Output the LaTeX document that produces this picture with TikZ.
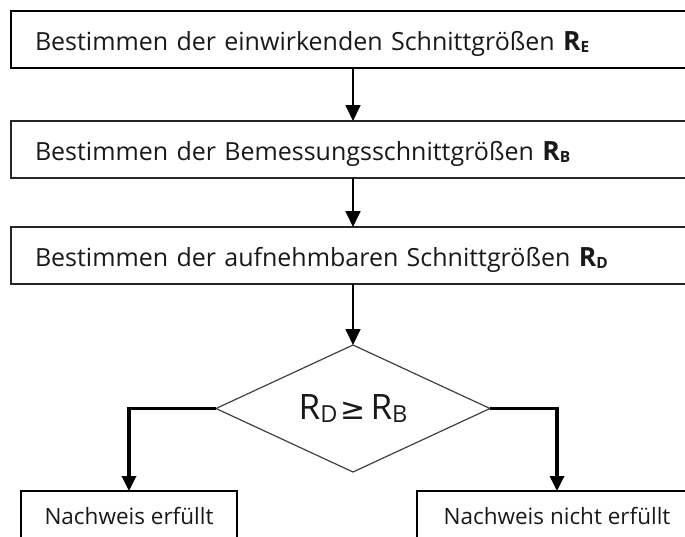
\documentclass[tikz,border=0pt]{standalone}
\usepackage{fontspec}
\setmainfont{Open Sans}
\newfontfamily\symfont{DejaVu Sans}
\usetikzlibrary{arrows.meta,positioning,shapes.geometric}
\tikzstyle{block} = [rectangle, draw, line width=1.8pt, minimum width=684pt,
    minimum height=57pt, text width=636pt, align=left, inner xsep=24pt,
    text height=24pt, text depth=2pt, outer sep=0pt, text=black!90,
    font=\fontsize{25}{28}\selectfont]
\tikzstyle{result} = [rectangle, draw, line width=1.6pt, minimum height=50pt,
    outer sep=0pt, text=black!90, font=\fontsize{22.5}{25}\selectfont]
\tikzstyle{decision} = [diamond, draw=black!75, line width=1.2pt, aspect=2.16,
    minimum width=274pt, minimum height=127pt, inner sep=0pt, outer sep=0pt,
    text=black!90, font=\fontsize{35}{38}\selectfont]
\tikzstyle{line} = [draw, line width=1.8pt, -{Triangle[length=16pt,width=15pt]}]
\tikzstyle{branch} = [draw, line width=3.3pt, -{Triangle[length=15pt,width=14pt]}]
\newcommand{\Rbold}[1]{{\fontsize{26.5}{28}\selectfont\bfseries R\raisebox{-1.5pt}{\fontsize{15.5}{16}\selectfont #1}}}
\newcommand{\Rsub}[1]{R\raisebox{-3.5pt}{\fontsize{23.5}{24}\selectfont #1}}

\begin{document}
\begin{tikzpicture}[x=1pt,y=-1pt]
        \useasboundingbox (0,0) rectangle (685,536);
        % Place nodes
        \node [block] (RE) at (353,39.5) {Bestimmen der einwirkenden Schnittgrößen \Rbold{E}};
        \node [block, draw=black!85] (RB) [below=53pt of RE] {Bestimmen der Bemessungsschnittgrößen \Rbold{B}};
        \node [block, draw=black!85] (RD) [below=49pt of RB] {Bestimmen der aufnehmbaren Schnittgrößen \Rbold{D}};
        \node [decision] (check) [below=61pt of RD] {\Rsub{D}\kern3pt{\symfont\fontsize{30}{32}\selectfont ≥}\kern5pt\Rsub{B}};
        \node [result, minimum width=216pt] (ok) at (129,516) {Nachweis erfüllt};
        \node [result, minimum width=280pt] (nok) at (557,516) {Nachweis nicht erfüllt};
        % Draw edges
        \path [line] (RE) -- (RB);
        \path [line] (RB) -- (RD);
        \path [line] (RD) -- (check);
        \path [branch] (check.west) -| (ok);
        \path [branch] (check.east) -| (nok);
    \end{tikzpicture}
\end{document}
